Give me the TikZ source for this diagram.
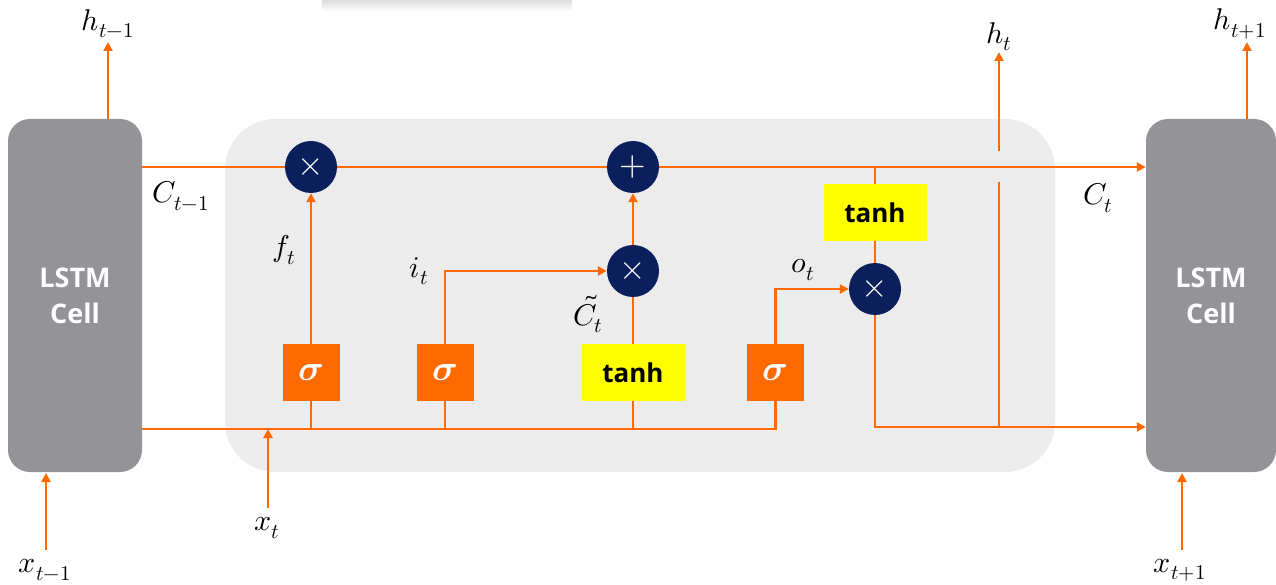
\documentclass[tikz,border=0pt]{standalone}
\usepackage{fontspec}
\usepackage{unicode-math}
\setmathfont{Latin Modern Math}
\newfontfamily\boxfont{Open Sans}
\usetikzlibrary{arrows.meta}
\definecolor{cellgray}{HTML}{949398}
\definecolor{bggray}{HTML}{ECECEC}
\definecolor{navy}{HTML}{0B1F5C}
\definecolor{lorange}{HTML}{FF6A00}
\definecolor{tyellow}{HTML}{FFFF00}
\tikzset{
  cellbox/.style={fill=cellgray, rounded corners=22pt, minimum height=353pt, inner sep=0pt,
    text=white, font=\boxfont\bfseries\fontsize{27}{36}\selectfont, align=center},
  opnode/.style={circle, fill=navy, minimum size=52pt, inner sep=0pt, text=white,
    font=\fontsize{34}{34}\selectfont},
  sigbox/.style={fill=lorange, minimum width=57pt, minimum height=57pt, inner sep=0pt, text=white,
    font=\fontsize{36}{36}\selectfont},
  tanhbox/.style={fill=tyellow, minimum width=103pt, minimum height=57pt, inner sep=0pt,
    font=\boxfont\bfseries\fontsize{26}{26}\selectfont},
  conn/.style={draw=lorange, line width=2.7pt},
  arr/.style={conn, -{Triangle[length=9pt,width=9pt]}},
  lbl/.style={inner sep=0pt, font=\fontsize{30}{32}\selectfont}
}
\begin{document}
\begin{tikzpicture}[x=1pt,y=-1pt]
\useasboundingbox (0,0) rectangle (1276,585);
% faint shadow at top
\shade[top color=black!14, bottom color=white] (322,0) rectangle (572,11);
% background of the central cell
\fill[bggray, rounded corners=50pt] (225,119) rectangle (1055,472);
% outer cells
\node[cellbox, minimum width=134pt] (L) at (75,295.5) {LSTM\\Cell};
\node[cellbox, minimum width=130pt] (R) at (1211,295.5) {LSTM\\Cell};
% operation circles
\node[opnode] (m1) at (311,167) {$\times$};
\node[opnode] (p)  at (633,167) {$+$};
\node[opnode] (m2) at (633,271) {$\times$};
\node[opnode] (m3) at (875,289) {$\times$};
% gates
\node[sigbox] (s1) at (311,372.5) {$\symbfit{\sigma}$};
\node[sigbox] (s2) at (445,372.5) {$\symbfit{\sigma}$};
\node[tanhbox] (t1) at (633,372.5) {tanh};
\node[sigbox] (s3) at (775.5,372.5) {$\symbfit{\sigma}$};
\node[tanhbox] (t2) at (875,212.5) {tanh};
% coordinates
\coordinate (cl) at (142,167);
\coordinate (xl) at (142,429);
\coordinate (xin) at (268,429);
\coordinate (xinstart) at (268,508);
\coordinate (hout) at (999,427);
\coordinate (hg1) at (999,182);
\coordinate (hg2) at (999,151);
\coordinate (htop) at (999,52);
\coordinate (hlb) at (108,119);
\coordinate (hlt) at (108,42);
\coordinate (hrb) at (1247,119);
\coordinate (hrt) at (1247,42);
\coordinate (xlb) at (46,550);
\coordinate (xlt) at (46,473);
\coordinate (xrb) at (1182,550);
\coordinate (xrt) at (1182,473);
% cell state line
\draw[conn] (cl) -- (m1.west);
\draw[conn] (m1.east) -- (p.west);
\draw[arr] (p.east) -- (R.west |- p);
% input line
\draw[conn] (xl) -- (s3 |- xl) -- (s3.south);
\draw[conn] (s1.south) -- (s1 |- xl);
\draw[conn] (s2.south) -- (s2 |- xl);
\draw[conn] (t1.south) -- (t1 |- xl);
\draw[arr] (xinstart) -- (xin);
% gates to ops
\draw[arr] (s1.north) -- (m1.south);
\draw[arr] (s2.north) |- (m2.west);
\draw[conn] (t1.north) -- (m2.south);
\draw[arr] (m2.north) -- (p.south);
\draw[arr] (s3.north) |- (m3.west);
\draw[conn] (t2 |- p) -- (t2.north);
\draw[conn] (t2.south) -- (m3.north);
\draw[arr] (m3.south) |- (R.west |- hout);
% h_t
\draw[conn] (hout) -- (hg1);
\draw[arr] (hg2) -- (htop);
% outer arrows
\draw[arr] (hlb) -- (hlt);
\draw[arr] (hrb) -- (hrt);
\draw[arr] (xlb) -- (xlt);
\draw[arr] (xrb) -- (xrt);
% labels
\node[lbl] (lh1) at (108,24) {$h_{t-1}$};
\node[lbl] (lc1) at (181,196) {$C_{t-1}$};
\node[lbl] (lf) at (284,250) {$f_t$};
\node[lbl] (li) at (419,271) {$i_t$};
\node[lbl] (lct) at (588,314) {$\tilde{C}_t$};
\node[lbl] (lo) at (803,270) {$o_t$};
\node[lbl] (lht) at (999,37) {$h_t$};
\node[lbl] (lc) at (1098,198) {$C_t$};
\node[lbl] (lh2) at (1240,24) {$h_{t+1}$};
\node[lbl] (lx) at (267,528) {$x_t$};
\node[lbl] (lx1) at (45,570) {$x_{t-1}$};
\node[lbl] (lx2) at (1180,570) {$x_{t+1}$};
\end{tikzpicture}
\end{document}
